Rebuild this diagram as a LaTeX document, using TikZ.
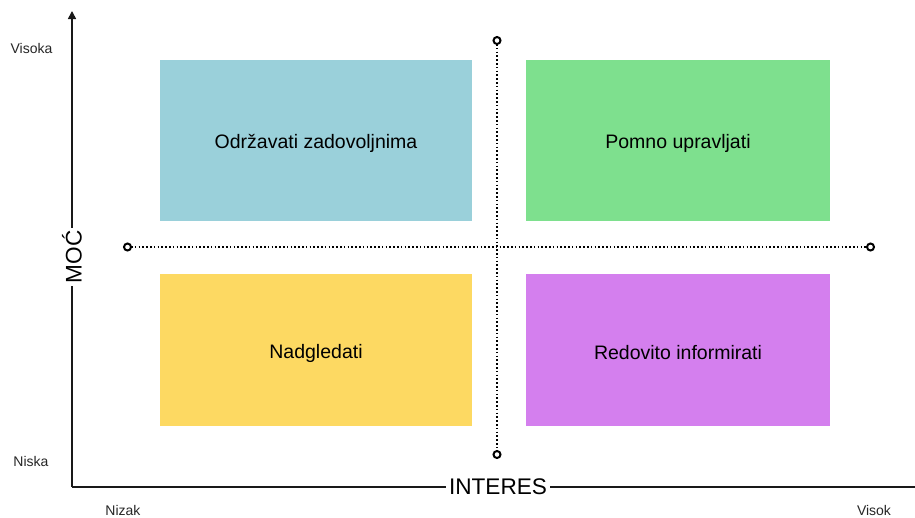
\documentclass[tikz,border=0pt]{standalone}
\usepackage{fontspec}
\setmainfont{Liberation Sans}
\usetikzlibrary{arrows.meta}
\definecolor{qblue}{HTML}{9AD0DA}
\definecolor{qgreen}{HTML}{7EE08E}
\definecolor{qyellow}{HTML}{FDD962}
\definecolor{qpurple}{HTML}{D47FEE}
\begin{document}
\begin{tikzpicture}[x=1pt,y=-1pt,
  quad/.style={draw=none,inner sep=0pt},
  qtext/.style={inner sep=0pt,font=\fontsize{19.5}{23}\selectfont},
  small/.style={font=\fontsize{14}{16}\selectfont,inner sep=0pt,text=black!85},
  axis/.style={line width=1.6pt,draw=black!90},
  divider/.style={line width=2pt,dash pattern=on 1.6pt off 2.2pt,{Circle[open,length=9pt,line width=2pt]}-{Circle[open,length=9pt,line width=2pt]}},
  axlabel/.style={fill=white,inner sep=3pt,font=\fontsize{22.6}{26}\selectfont}]
\useasboundingbox (0,0) rectangle (915,517);
% quadrants
\node[quad,fill=qblue,minimum width=312pt,minimum height=161pt] (tl) at (316,140.5) {};
\node[quad,fill=qgreen,minimum width=304pt,minimum height=161pt] (tr) at (678,140.5) {};
\node[quad,fill=qyellow,minimum width=312pt,minimum height=152pt] (bl) at (316,350) {};
\node[quad,fill=qpurple,minimum width=304pt,minimum height=152pt] (br) at (678,350) {};
\node[qtext] (tlt) at ([yshift=-3pt]tl.center) {Održavati zadovoljnima};
\node[qtext] (trt) at ([yshift=-3pt]tr.center) {Pomno upravljati};
\node[qtext] (blt) at ([yshift=-3pt]bl.center) {Nadgledati};
\node[qtext] (brt) at ([yshift=-3pt]br.center) {Redovito informirati};
% axes
\coordinate (o) at (72,487);
\coordinate (ytop) at (72,11);
\coordinate (xend) at (915,487);
\draw[axis,-{Triangle[length=8pt,width=8pt]}] (o) -- (ytop);
\draw[axis] (o) -- (xend);
\node[axlabel] (interes) at (498,487) {INTERES};
\node[axlabel,rotate=90] (moc) at (72,257) {MOĆ};
% dividers
\coordinate (vt) at (497,36);
\coordinate (vb) at (497,459);
\coordinate (hl) at (123,247);
\coordinate (hr) at (875,247);
\draw[divider] (vt) -- (vb);
\draw[divider] (hl) -- (hr);
% labels
\node[small] (visoka) at (31.5,48) {Visoka};
\node[small] (niska) at (31,461) {Niska};
\node[small] (nizak) at (123,510) {Nizak};
\node[small] (visok) at (874,510) {Visok};
\end{tikzpicture}
\end{document}
